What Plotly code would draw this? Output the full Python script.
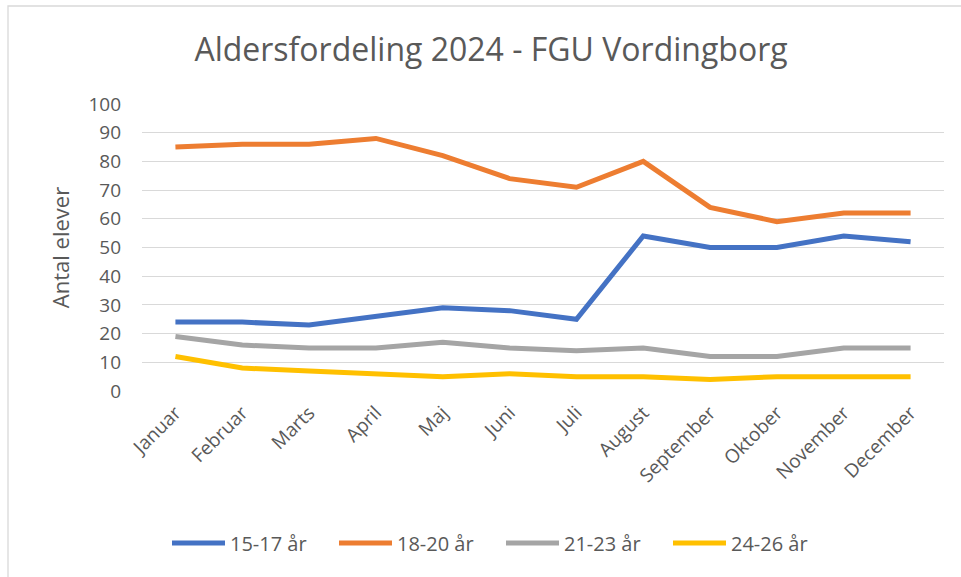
import plotly.graph_objects as go

months = ["Januar", "Februar", "Marts", "April", "Maj", "Juni", "Juli",
          "August", "September", "Oktober", "November", "December"]
s15_17 = [24, 24, 23, 26, 29, 28, 25, 54, 50, 50, 54, 52]
s18_20 = [85, 86, 86, 88, 82, 74, 71, 80, 64, 59, 62, 62]
s21_23 = [19, 16, 15, 15, 17, 15, 14, 15, 12, 12, 15, 15]
s24_26 = [12, 8, 7, 6, 5, 6, 5, 5, 4, 5, 5, 5]
names = ["15-17 år", "18-20 år", "21-23 år", "24-26 år"]
colors = ["#4472C4", "#ED7D31", "#A5A5A5", "#FFC000"]
y_ticks = [0, 10, 20, 30, 40, 50, 60, 70, 80, 90, 100]

FONT = "Open Sans"
TXT = "#595959"

fig = go.Figure()
for name, vals, col in zip(names, [s15_17, s18_20, s21_23, s24_26], colors):
    fig.add_trace(go.Scatter(
        x=list(range(len(months))), y=vals, name=name, mode="lines",
        line=dict(color=col, width=5, shape="linear"),
    ))

W, H = 961, 577
L, R, T, B = 142, 17, 104, 186
pw, ph = W - L - R, H - T - B

fig.update_layout(
    width=W, height=H,
    margin=dict(l=L, r=R, t=T, b=B, autoexpand=False),
    paper_bgcolor="white", plot_bgcolor="white",
    font=dict(family=FONT, color=TXT),
    title=dict(text="Aldersfordeling 2024 - FGU Vordingborg",
               x=491 / W, xanchor="center",
               y=1 - 50 / H, yanchor="middle",
               font=dict(size=32, color=TXT, family=FONT)),
    xaxis=dict(
        range=[-0.5, 11.5], tickmode="array",
        tickvals=list(range(len(months))), ticktext=months,
        tickangle=-45, showgrid=False, zeroline=False, showline=False,
        ticks="", tickfont=dict(size=19, color=TXT), ticklabelstandoff=6,
    ),
    yaxis=dict(
        range=[0, 100], tickvals=y_ticks, showgrid=True,
        gridcolor="#D9D9D9", gridwidth=1.3, zeroline=False, showline=False,
        ticks="", tickfont=dict(size=19, color=TXT), ticklabelstandoff=20,
        title=dict(text="Antal elever", font=dict(size=22, color=TXT), standoff=12),
    ),
    legend=dict(
        orientation="h", x=(501 - L) / pw, xanchor="center",
        y=(391 - 543) / ph, yanchor="middle",
        font=dict(size=20, color=TXT),
        itemwidth=53,
        entrywidth=99, entrywidthmode="pixels",
        traceorder="normal",
    ),
    showlegend=True,
    shapes=[dict(type="rect", xref="paper", yref="paper",
                 x0=(8 - L) / pw, x1=2.0, y0=-2.0, y1=1 + (T - 6) / ph,
                 line=dict(color="#D9D9D9", width=1.3), fillcolor="rgba(0,0,0,0)",
                 layer="below")],
)

fig.write_html("out.html", config={"displayModeBar": False},
               post_script="document.body.style.margin='0';document.body.style.overflow='hidden';")
